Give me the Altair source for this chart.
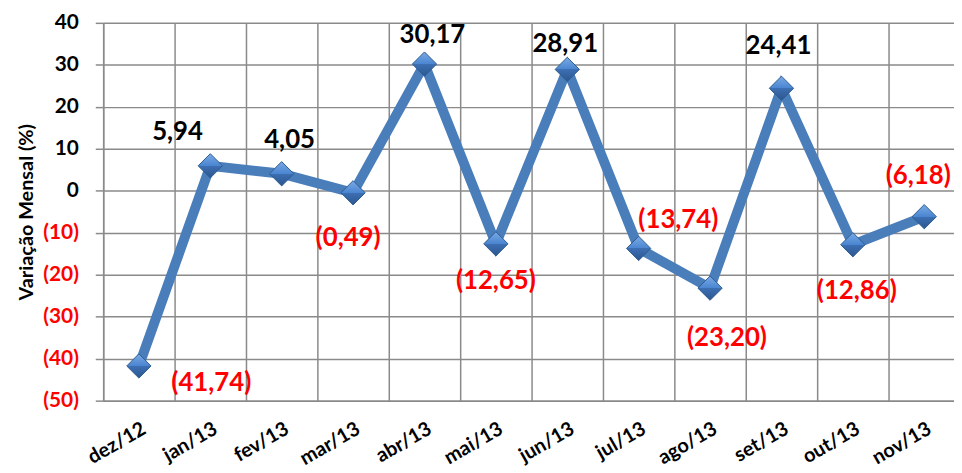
import altair as alt
import pandas as pd

months = ["dez/12", "jan/13", "fev/13", "mar/13", "abr/13", "mai/13",
          "jun/13", "jul/13", "ago/13", "set/13", "out/13", "nov/13"]
values = [-41.74, 5.94, 4.05, -0.49, 30.17, -12.65, 28.91, -13.74, -23.20, 24.41, -12.86, -6.18]
y_ticks = [-50, -40, -30, -20, -10, 0, 10, 20, 30, 40]

# label placement offsets (px) relative to each point: style only
label_offsets = [(73, 17), (-33, -34), (8, -34), (-5, 46), (8, -29), (0, 38),
                 (-2, -26), (40, -29), (17, 50), (-3, -43), (4, 47), (-6, -41)]


def fmt(v):
    s = f"{abs(v):.2f}".replace(".", ",")
    return f"({s})" if v < 0 else s


df = pd.DataFrame({
    "mes": months,
    "valor": values,
    "rotulo": [fmt(v) for v in values],
    "idx": list(range(len(months))),
})

FONT = "Lato"
LINE_BLUE = "#4A7EBB"
GRID = "#8a8a8a"

x = alt.X("mes:N", sort=months, title=None,
          scale=alt.Scale(paddingInner=0, paddingOuter=0, rangeMin=0, rangeMax=864),
          axis=alt.Axis(tickBand="extent", labelAngle=-30, labelAlign="right",
                        labelBaseline="top", labelPadding=18, labelFontSize=20,
                        labelFont=FONT, labelFontWeight="bold", labelColor="black",
                        ticks=False, grid=True, gridColor=GRID, gridWidth=1.5,
                        domainColor=GRID, domainWidth=1.5, labelOverlap=False,
                        labelBound=False))
y = alt.Y("valor:Q", title="Variação Mensal (%)",
          scale=alt.Scale(domain=[-50, 40], nice=False, zero=False),
          axis=alt.Axis(values=y_ticks, grid=True, gridColor=GRID, gridWidth=1.5,
                        tickSize=8, tickColor=GRID, tickWidth=1.5,
                        domainColor=GRID, domainWidth=1.5,
                        labelExpr="datum.value < 0 ? '(' + abs(datum.value) + ')' : datum.value",
                        labelColor={"condition": {"test": "datum.value < 0", "value": "#FF0000"},
                                    "value": "black"},
                        labelFont=FONT, labelFontWeight="bold", labelFontSize=21,
                        labelPadding=17, titleFont=FONT, titleFontWeight="bold",
                        titleFontSize=20, titleColor="black", titlePadding=6))

base = alt.Chart(df)

diamond_fill = alt.LinearGradient(
    gradient="linear", x1=0, y1=0, x2=0, y2=1,
    stops=[alt.GradientStop(offset=0, color="#7BAAE6"),
           alt.GradientStop(offset=0.5, color="#4A85D0"),
           alt.GradientStop(offset=0.5, color="#3D6FB3"),
           alt.GradientStop(offset=1, color="#2C5790")],
)

line = base.mark_line(color=LINE_BLUE, strokeWidth=10, strokeJoin="miter").encode(x=x, y=y)
pts = base.mark_point(shape="diamond", filled=True, size=600, fill=diamond_fill,
                      stroke="#2E5C8F", strokeWidth=1, opacity=1).encode(x=x, y=y)

layers = [line, pts]
for i, (dx, dy) in enumerate(label_offsets):
    layers.append(
        base.transform_filter(alt.datum.idx == i).mark_text(
            dx=dx, dy=dy, font=FONT, fontWeight="bold", fontSize=26,
            baseline="middle", align="center",
        ).encode(
            x=x, y=y, text="rotulo:N",
            color=alt.condition(alt.datum.valor < 0, alt.value("#FF0000"), alt.value("black")),
        )
    )

chart = alt.layer(*layers).properties(
    width=858, height=381,
    autosize=alt.AutoSizeParams(type="none"),
    padding={"left": 96, "top": 13, "right": 0, "bottom": 71},
    background="white",
).configure_view(stroke=None)

chart.save("out.html", embed_options={"renderer": "svg", "actions": False})
